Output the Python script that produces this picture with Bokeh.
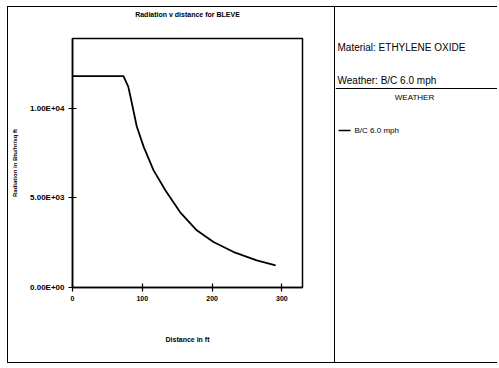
from bokeh.plotting import figure
from bokeh.layouts import row
from bokeh.models import FixedTicker, Span, LinearAxis
from bokeh.embed import file_html
from bokeh.resources import INLINE
from bokeh.core.properties import value

# ---- data ----
distance_ft = [0, 73, 80, 85, 92, 102, 116, 133, 154, 178, 202, 231, 264, 291]
radiation = [11800, 11800, 11200, 10300, 9000, 7850, 6550, 5430, 4210, 3190, 2540, 1980, 1510, 1230]
x_ticks = [0, 100, 200, 300]
y_ticks = [0, 5000, 10000]
y_tick_labels = ["0.00E+00", "5.00E+03", "1.00E+04"]
series_name = "B/C 6.0 mph"
material_text = "Material: ETHYLENE OXIDE"
weather_text = "Weather: B/C 6.0 mph"
legend_title = "WEATHER"
chart_title = "Radiation v distance for BLEVE"
x_label = "Distance in ft"
y_label = "Radiation in Btu/hr/sq ft"

FONT = "Liberation Sans"
TOP, BOTTOM = 31, 77
EDGE = "1px solid black"

p = figure(width=327, height=357, x_range=(0, 329.5), y_range=(0, 13900),
           output_backend="svg", toolbar_location=None,
           min_border_left=64, min_border_right=33, min_border_top=TOP, min_border_bottom=BOTTOM,
           x_axis_label=x_label, y_axis_label=y_label)
p.line(distance_ft, radiation, line_color="black", line_width=1.8)

p.grid.visible = False
p.outline_line_color = "black"
p.outline_line_width = 1.5
p.outline_line_alpha = 1.0
p.background_fill_color = "white"
p.border_fill_color = "white"
p.styles = {"border-left": EDGE, "border-top": EDGE, "border-bottom": EDGE}

xa = p.below[0]
ya = p.left[0]
xa.ticker = FixedTicker(ticks=x_ticks, minor_ticks=[])
ya.ticker = FixedTicker(ticks=y_ticks, minor_ticks=[])
ya.major_label_overrides = {t: lab for t, lab in zip(y_ticks, y_tick_labels)}
for ax in (xa, ya):
    ax.axis_line_color = "black"
    ax.axis_line_width = 1.5
    ax.major_tick_line_color = "black"
    ax.major_tick_line_width = 1.2
    ax.major_tick_in = 4
    ax.major_tick_out = 4
    ax.minor_tick_in = 0
    ax.minor_tick_out = 0
    ax.major_label_text_font = FONT
    ax.major_label_text_font_style = "bold"
    ax.major_label_text_color = "black"
    ax.axis_label_text_font = FONT
    ax.axis_label_text_font_style = "bold"
    ax.axis_label_text_color = "black"
xa.major_label_text_font_size = "7px"
ya.major_label_text_font_size = "8px"
xa.major_label_standoff = 4
ya.major_label_standoff = 4
xa.axis_label_text_font_size = "7px"
xa.axis_label_standoff = 32
ya.axis_label_text_font_size = "6px"
ya.axis_label_standoff = 9

# chart title carried by an undecorated axis above the frame
title_axis = LinearAxis(ticker=FixedTicker(ticks=[], minor_ticks=[]), axis_label=chart_title,
                        axis_line_color=None, major_tick_line_color=None,
                        minor_tick_line_color=None, major_tick_out=0, major_tick_in=0,
                        minor_tick_out=0, minor_tick_in=0,
                        major_label_text_font_size="0px", major_label_standoff=0,
                        axis_label_text_font=FONT, axis_label_text_font_size="7px",
                        axis_label_text_font_style="bold", axis_label_text_color="black",
                        axis_label_standoff=21)
p.add_layout(title_axis, "above")

# ---- side panel (data coordinates equal page pixels) ----
s = figure(width=163, height=357, x_range=(335, 498), y_range=(287, 38),
           output_backend="svg", toolbar_location=None,
           x_axis_location=None, y_axis_location=None,
           min_border_left=0, min_border_right=0, min_border_top=TOP, min_border_bottom=BOTTOM)
s.grid.visible = False
s.outline_line_color = None
s.background_fill_color = "white"
s.border_fill_color = "white"
s.styles = {"border-left": EDGE, "border-top": EDGE, "border-bottom": EDGE}
s.add_layout(Span(location=88, dimension="width", line_color="black", line_width=1.2))

s.text(x=[337, 337], y=[47, 80], text=[material_text, weather_text],
       text_font=value(FONT), text_font_size="10px", text_color="black",
       text_baseline="middle", text_align="left")
s.text(x=[414], y=[97], text=[legend_title],
       text_font=value(FONT), text_font_size="8px", text_color="black",
       text_baseline="middle", text_align="center")
s.segment(x0=[338], y0=[130], x1=[350], y1=[130], line_color="black", line_width=1.5)
s.text(x=[354], y=[130], text=[series_name],
       text_font=value(FONT), text_font_size="8px", text_color="black",
       text_baseline="middle", text_align="left")

layout = row(p, s, styles={"margin-left": "7px", "margin-top": "6px"})

open("out.html", "w").write(file_html(layout, INLINE))
